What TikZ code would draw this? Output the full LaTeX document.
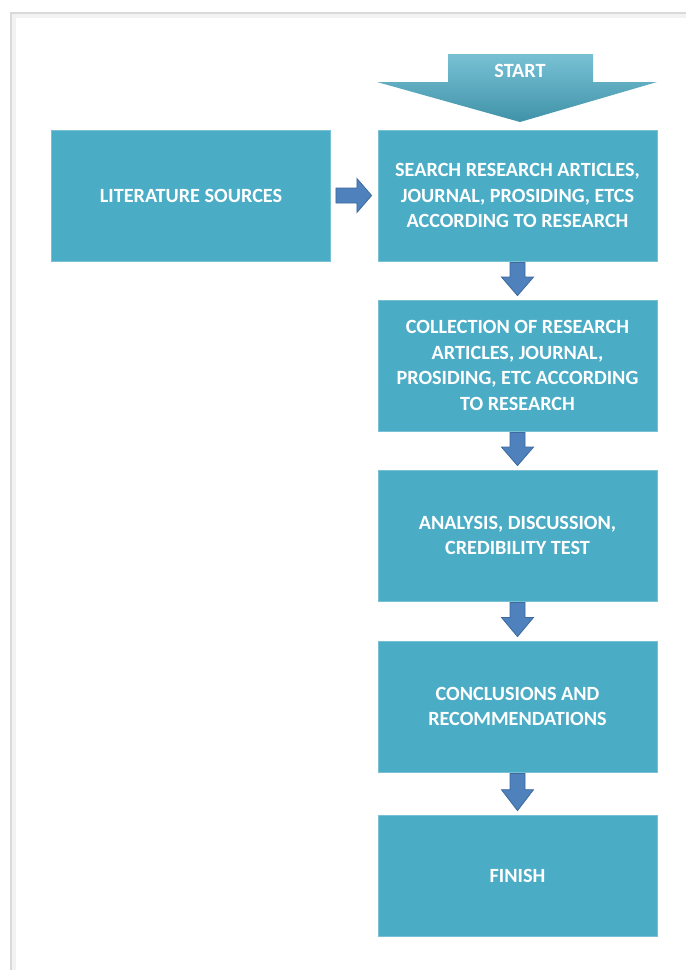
\documentclass[tikz,border=0pt]{standalone}
\usepackage{fontspec}
\setmainfont{Carlito}
\usetikzlibrary{calc}
\definecolor{boxfill}{HTML}{4BACC6}
\definecolor{arrfill}{HTML}{4F81BD}
\definecolor{arrline}{HTML}{3D6A9E}
\tikzset{
  stepbox/.style={rectangle, fill=boxfill, draw=boxfill!75!white, line width=0.8pt,
    minimum width=279pt, minimum height=131pt, inner sep=0pt, align=center,
    text=white, font=\fontsize{20.2}{25.5}\selectfont\bfseries},
  blockarr/.style={fill=arrfill, draw=arrline, line width=0.8pt, line join=miter}
}
\newcommand\vconn[2]{%
  \draw[blockarr]
    ($(#1.south)+(-7.5pt,-1pt)$) --
    ($(#1.south)!0.41!(#2.north)+(-7.5pt,0pt)$) --
    ($(#1.south)!0.41!(#2.north)+(-16pt,0pt)$) --
    ($(#2.north)+(0pt,4pt)$) --
    ($(#1.south)!0.41!(#2.north)+(16pt,0pt)$) --
    ($(#1.south)!0.41!(#2.north)+(7.5pt,0pt)$) --
    ($(#1.south)+(7.5pt,-1pt)$) -- cycle;}
\begin{document}
\begin{tikzpicture}[x=1pt,y=-1pt]
\useasboundingbox (0,0) rectangle (686,970);
\fill[white] (0,0) rectangle (686,970);
% page frame with soft shadow
\draw[gray!10, line width=5pt] (13,970) -- (13,15) -- (686,15);
\draw[gray!30, line width=1.6pt] (11,970) -- (11,13) -- (686,13);
% start arrow
\shade[top color=boxfill!75!white, bottom color=boxfill!85!black]
  (448,54) -- (593,54) -- (593,82) -- (657,82) -- (520,122) -- (377,82) -- (448,82) -- cycle;
\node[text=white, font=\fontsize{20.2}{25.5}\selectfont\bfseries] (start) at (520,71) {START};
% boxes
\node[stepbox] (lit) at (191,195.5) {LITERATURE SOURCES};
\node[stepbox] (s1) at (517.5,195.5) {SEARCH RESEARCH ARTICLES,\\JOURNAL, PROSIDING, ETCS\\ACCORDING TO RESEARCH};
\node[stepbox] (s2) at (517.5,365.5) {COLLECTION OF RESEARCH\\ARTICLES, JOURNAL,\\PROSIDING, ETC ACCORDING\\TO RESEARCH};
\node[stepbox] (s3) at (517.5,535.5) {ANALYSIS, DISCUSSION,\\CREDIBILITY TEST};
\node[stepbox] (s4) at (517.5,706.5) {CONCLUSIONS AND\\RECOMMENDATIONS};
\node[stepbox, minimum height=121pt] (s5) at (517.5,875.5) {FINISH};
% right arrow
\draw[blockarr]
  ($(lit.east)+(5pt,-7.5pt)$) -- ($(lit.east)+(26pt,-7.5pt)$) -- ($(lit.east)+(26pt,-17pt)$) --
  ($(s1.west)+(-6pt,0pt)$) --
  ($(lit.east)+(26pt,17pt)$) -- ($(lit.east)+(26pt,7.5pt)$) -- ($(lit.east)+(5pt,7.5pt)$) -- cycle;
% down arrows
\vconn{s1}{s2}
\vconn{s2}{s3}
\vconn{s3}{s4}
\vconn{s4}{s5}
\end{tikzpicture}
\end{document}
